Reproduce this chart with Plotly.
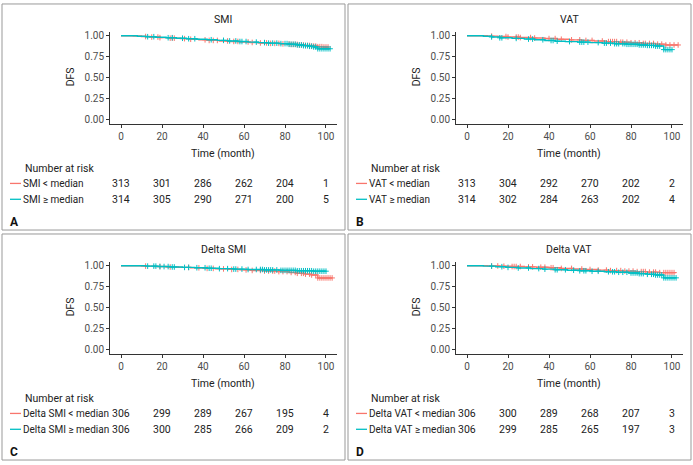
import plotly.graph_objects as go

# ---------------- DATA ----------------
# Kaplan-Meier step points (time in months, DFS) and censor times
a_lo_t = [0, 6, 10, 14, 19, 24, 29, 34, 38, 43, 48, 53, 58, 63, 68, 73, 78, 83, 87, 90, 93, 96, 99, 101]
a_lo_s = [1, 0.997, 0.99, 0.984, 0.977, 0.971, 0.965, 0.958, 0.951, 0.944, 0.938, 0.932, 0.926, 0.92, 0.914, 0.909, 0.903, 0.897, 0.89, 0.884, 0.877, 0.87, 0.866, 0.866]
a_lo_c = [12, 15, 18, 19, 24, 25, 26, 31, 34, 41, 43, 45, 47, 52, 55, 57, 62, 64, 68, 71, 73, 75, 77, 79, 82, 83, 84, 85, 86, 87, 88, 89, 90, 91, 92, 93, 94, 95, 96, 97, 98, 99, 100, 101]
a_hi_t = [0, 8, 12, 17, 22, 27, 32, 37, 42, 47, 52, 57, 62, 67, 72, 77, 82, 86, 89, 92, 94, 96, 102]
a_hi_s = [1, 0.994, 0.988, 0.982, 0.976, 0.97, 0.964, 0.958, 0.952, 0.945, 0.938, 0.931, 0.924, 0.918, 0.912, 0.906, 0.898, 0.89, 0.882, 0.874, 0.866, 0.845, 0.845]
a_hi_c = [13, 16, 23, 25, 30, 33, 36, 44, 50, 53, 56, 58, 59, 61, 66, 70, 72, 74, 76, 78, 80, 81, 82, 83, 84, 85, 86, 87, 88, 89, 90, 91, 92, 93, 94, 95, 96, 97, 98, 99, 100, 101, 102]

b_lo_t = [0, 10, 15, 20, 26, 32, 38, 44, 50, 56, 62, 68, 74, 80, 86, 92, 97, 103]
b_lo_s = [1, 0.995, 0.99, 0.984, 0.978, 0.972, 0.966, 0.958, 0.951, 0.944, 0.937, 0.93, 0.923, 0.916, 0.908, 0.9, 0.89, 0.89]
b_lo_c = [12, 19, 20, 24, 25, 26, 31, 33, 40, 43, 46, 51, 55, 58, 61, 66, 69, 70, 71, 72, 73, 75, 76, 78, 80, 82, 84, 86, 87, 89, 91, 93, 95, 97, 99, 101, 103]
b_hi_t = [0, 8, 12, 16, 22, 28, 33, 38, 43, 48, 54, 60, 66, 72, 78, 84, 88, 92, 96, 100]
b_hi_s = [1, 0.993, 0.985, 0.975, 0.968, 0.96, 0.952, 0.943, 0.935, 0.93, 0.924, 0.918, 0.912, 0.905, 0.898, 0.89, 0.885, 0.877, 0.835, 0.835]
b_hi_c = [12, 16, 17, 24, 30, 32, 37, 41, 42, 44, 50, 55, 56, 57, 59, 64, 67, 68, 70, 72, 73, 74, 76, 77, 78, 79, 80, 81, 82, 83, 84, 85, 86, 87, 88, 89, 90, 91, 92, 93, 94, 96, 97, 98, 99, 100]

c_lo_t = [0, 10, 16, 22, 28, 34, 40, 46, 52, 58, 64, 70, 76, 82, 86, 90, 93, 96, 103]
c_lo_s = [1, 0.995, 0.99, 0.985, 0.98, 0.975, 0.968, 0.962, 0.956, 0.95, 0.944, 0.937, 0.93, 0.92, 0.91, 0.9, 0.89, 0.855, 0.855]
c_lo_c = [12, 19, 24, 33, 38, 42, 45, 50, 54, 57, 61, 64, 68, 70, 72, 74, 75, 77, 79, 81, 83, 85, 86, 88, 89, 90, 92, 93, 95, 96, 97, 98, 99, 100, 101, 102, 103]
c_hi_t = [0, 12, 18, 24, 30, 36, 42, 48, 55, 62, 70, 78, 86, 94, 100]
c_hi_s = [1, 0.995, 0.99, 0.985, 0.98, 0.976, 0.97, 0.965, 0.96, 0.955, 0.95, 0.945, 0.94, 0.935, 0.935]
c_hi_c = [13, 16, 17, 19, 21, 23, 25, 26, 31, 33, 37, 41, 43, 44, 48, 52, 55, 56, 59, 62, 66, 68, 69, 70, 71, 72, 73, 74, 76, 78, 79, 80, 81, 82, 83, 84, 85, 86, 87, 88, 89, 90, 91, 92, 93, 94, 95, 96, 97, 98, 99, 100]

d_lo_t = [0, 10, 16, 22, 28, 34, 40, 46, 52, 58, 64, 70, 76, 82, 88, 94, 102]
d_lo_s = [1, 0.997, 0.994, 0.99, 0.986, 0.982, 0.976, 0.968, 0.961, 0.955, 0.948, 0.942, 0.936, 0.93, 0.924, 0.918, 0.918]
d_lo_c = [12, 15, 18, 22, 23, 24, 26, 30, 32, 36, 38, 41, 42, 46, 51, 56, 60, 64, 68, 70, 73, 75, 77, 79, 81, 83, 85, 86, 87, 89, 91, 92, 94, 96, 97, 98, 99, 100, 101]
d_hi_t = [0, 8, 14, 19, 25, 31, 37, 43, 49, 55, 61, 67, 73, 79, 84, 88, 92, 96, 102]
d_hi_s = [1, 0.995, 0.988, 0.98, 0.973, 0.966, 0.959, 0.952, 0.946, 0.94, 0.934, 0.928, 0.922, 0.914, 0.906, 0.898, 0.89, 0.856, 0.856]
d_hi_c = [12, 17, 20, 25, 30, 35, 38, 43, 44, 48, 52, 55, 57, 58, 61, 64, 69, 71, 72, 74, 76, 78, 80, 81, 82, 83, 84, 85, 86, 88, 90, 91, 92, 93, 94, 95, 96, 97, 98, 99, 100, 101, 102]

# Number at risk
risk_times = [0, 20, 40, 60, 80, 100]
a_lo_risk = [313, 301, 286, 262, 204, 1]
a_hi_risk = [314, 305, 290, 271, 200, 5]
b_lo_risk = [313, 304, 292, 270, 202, 2]
b_hi_risk = [314, 302, 284, 263, 202, 4]
c_lo_risk = [306, 299, 289, 267, 195, 4]
c_hi_risk = [306, 300, 285, 266, 209, 2]
d_lo_risk = [306, 300, 289, 268, 207, 3]
d_hi_risk = [306, 299, 285, 265, 197, 3]

panel_titles = ["SMI", "VAT", "Delta SMI", "Delta VAT"]
panel_letters = ["A", "B", "C", "D"]
group_labels = [["SMI < median", "SMI \u2265 median"],
                ["VAT < median", "VAT \u2265 median"],
                ["Delta SMI < median", "Delta SMI \u2265 median"],
                ["Delta VAT < median", "Delta VAT \u2265 median"]]
x_ticks = [0, 20, 40, 60, 80, 100]
y_ticks = [0, 0.25, 0.5, 0.75, 1.0]
y_ticklabels = ["0.00", "0.25", "0.50", "0.75", "1.00"]

# ---------------- STYLE / LAYOUT ----------------
W, H = 693, 465
RED = "#F8766D"
CYAN = "#00BFC4"
FONT = "Roboto, Arial, sans-serif"
TXT = 10

def fx(x):
    return x / W

def fy(y):
    return 1 - y / H

def step_at(ts, ss, c):
    v = ss[0]
    for t, s in zip(ts, ss):
        if t <= c:
            v = s
    return v

panels = [
    (0, 0, (a_lo_t, a_lo_s, a_lo_c, a_lo_risk), (a_hi_t, a_hi_s, a_hi_c, a_hi_risk)),
    (346, 0, (b_lo_t, b_lo_s, b_lo_c, b_lo_risk), (b_hi_t, b_hi_s, b_hi_c, b_hi_risk)),
    (0, 232, (c_lo_t, c_lo_s, c_lo_c, c_lo_risk), (c_hi_t, c_hi_s, c_hi_c, c_hi_risk)),
    (346, 232, (d_lo_t, d_lo_s, d_lo_c, d_lo_risk), (d_hi_t, d_hi_s, d_hi_c, d_hi_risk)),
]

fig = go.Figure()
layout = dict(width=W, height=H, margin=dict(l=0, r=0, t=0, b=0),
              paper_bgcolor="white", plot_bgcolor="white", showlegend=False,
              font=dict(family=FONT, size=TXT, color="#222"))
annotations = []
shapes = []

for i, (ox, oy, lo, hi) in enumerate(panels):
    k = "" if i == 0 else str(i + 1)
    xa, ya = "x" + k, "y" + k
    for (ts, ss, cs, _), col in ((lo, RED), (hi, CYAN)):
        fig.add_trace(go.Scatter(x=ts, y=ss, mode="lines", line=dict(color=col, width=1.4, shape="hv"),
                                 xaxis=xa, yaxis=ya, hoverinfo="skip"))
        fig.add_trace(go.Scatter(x=cs, y=[step_at(ts, ss, c) for c in cs], mode="markers",
                                 marker=dict(symbol="cross-thin", size=4, line=dict(color=col, width=1)),
                                 xaxis=xa, yaxis=ya, hoverinfo="skip"))
    axis_common = dict(showline=True, linecolor="#333", linewidth=0.8, ticks="outside", ticklen=3,
                       tickcolor="#333", tickwidth=0.8, showgrid=False, zeroline=False,
                       tickfont=dict(size=TXT, color="#4d4d4d", family=FONT))
    layout["xaxis" + k] = dict(domain=[fx(ox + 110), fx(ox + 337)], range=[-5.37, 105.37],
                               tickvals=x_ticks, anchor=ya, **axis_common)
    layout["yaxis" + k] = dict(domain=[fy(oy + 123), fy(oy + 30)], range=[-0.047, 1.047],
                               tickvals=y_ticks, ticktext=y_ticklabels, anchor=xa, **axis_common)
    # panel border
    shapes.append(dict(type="rect", xref="paper", yref="paper", x0=fx(ox + 2), x1=fx(ox + 345),
                       y0=fy(oy + 230), y1=fy(oy + 2), line=dict(color="#999", width=1)))
    # titles
    annotations.append(dict(text=panel_titles[i], x=fx(ox + 223), y=fy(oy + 18), xref="paper", yref="paper",
                            showarrow=False, font=dict(size=TXT + 0.5, color="#222"), xanchor="center", yanchor="middle"))
    annotations.append(dict(text="Time (month)", x=fx(ox + 223), y=fy(oy + 153), xref="paper", yref="paper",
                            showarrow=False, font=dict(size=TXT + 0.5, color="#222"), xanchor="center", yanchor="middle"))
    annotations.append(dict(text="DFS", x=fx(ox + 70), y=fy(oy + 76), xref="paper", yref="paper", textangle=-90,
                            showarrow=False, font=dict(size=TXT + 0.5, color="#222"), xanchor="center", yanchor="middle"))
    annotations.append(dict(text="Number at risk", x=fx(ox + 23), y=fy(oy + 168), xref="paper", yref="paper",
                            showarrow=False, font=dict(size=TXT + 0.5, color="#222"), xanchor="left", yanchor="middle"))
    annotations.append(dict(text="<b>" + panel_letters[i] + "</b>", x=fx(ox + 8), y=fy(oy + 222), xref="paper",
                            yref="paper", showarrow=False, font=dict(size=12, color="#111"),
                            xanchor="left", yanchor="middle"))
    for (ts, ss, cs, risk), col, lab, ry in ((lo, RED, group_labels[i][0], 183), (hi, CYAN, group_labels[i][1], 199)):
        shapes.append(dict(type="line", xref="paper", yref="paper", x0=fx(ox + 10), x1=fx(ox + 21),
                           y0=fy(oy + ry), y1=fy(oy + ry), line=dict(color=col, width=1.3)))
        annotations.append(dict(text=lab, x=fx(ox + 21), y=fy(oy + ry), xref="paper", yref="paper",
                                showarrow=False, font=dict(size=TXT, color="#222"), xanchor="left", yanchor="middle"))
        for t, n in zip(risk_times, risk):
            annotations.append(dict(text=str(n), x=t, y=fy(oy + ry), xref=xa, yref="paper",
                                    showarrow=False, font=dict(size=TXT + 0.5, color="#222"),
                                    xanchor="center", yanchor="middle"))

layout["annotations"] = annotations
layout["shapes"] = shapes
fig.update_layout(**layout)
fig.write_html("out.html", config={"displayModeBar": False},
               post_script="document.body.style.margin='0';")
